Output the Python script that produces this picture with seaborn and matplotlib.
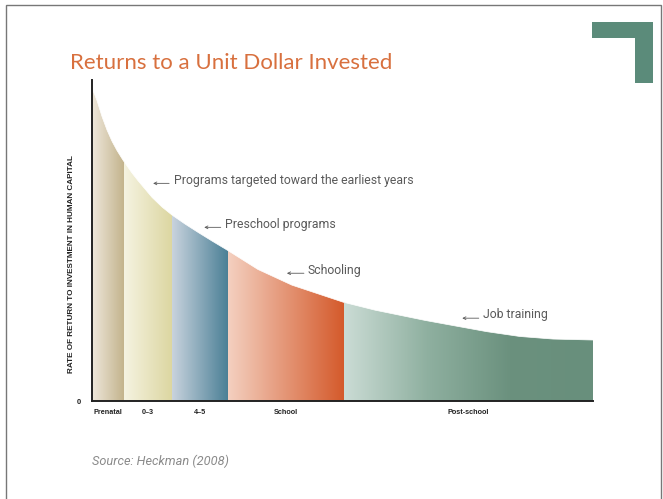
"""
plot.py
Heckman curve: returns to a unit dollar invested, by stage of life.
"""

import numpy as np
import pandas as pd
import matplotlib
matplotlib.use("Agg")
import matplotlib.pyplot as plt
import seaborn as sns
from matplotlib.colors import LinearSegmentedColormap
from matplotlib.patches import Polygon, Rectangle

# curve (x: 0-100 along the age axis, y: 0-100 of axis height)
CURVE_X = [0, 1.0, 2.0, 3.0, 4.0, 5.0, 6.2, 8.0, 9.2, 12.0, 14.0, 16.0, 18.6,
           21.2, 24.0, 27.1, 33.1, 39.9, 50.1, 56.5, 66.5, 72.1, 78.8, 85.4,
           92.0, 100]
CURVE_Y = [97.5, 93.6, 88.6, 84.4, 80.9, 78.0, 75.0, 71.0, 68.6, 63.4, 60.4,
           57.9, 55.1, 52.5, 49.8, 46.9, 41.0, 36.1, 30.8, 28.3, 25.1, 23.5,
           21.6, 20.1, 19.3, 19.0]

STAGES      = ["Prenatal", "0\u20133", "4\u20135", "School", "Post-school"]
STAGE_EDGES = [0, 6.4, 16.0, 27.1, 50.3, 100]
# colour stops left -> right inside each band
STAGE_COLORS = [
    ["#eee7db", "#c2b28a"],
    ["#f5f3e1", "#dcd6a0"],
    ["#c9d3de", "#4b8096"],
    ["#f4d0c0", "#d4592a"],
    ["#cbdcd5", "#8fb0a0", "#6b917e", "#688f7c"],
]

NOTES      = ["Programs targeted toward the earliest years", "Preschool programs",
              "Schooling", "Job training"]
NOTE_X     = [16.4, 26.5, 43.1, 78.0]
NOTE_Y     = [68.8, 55.1, 40.8, 26.8]
ARROW_HEAD = [12.2, 22.4, 38.9, 73.9]
ARROW_TAIL = [15.4, 25.7, 42.3, 77.2]

TITLE  = "Returns to a Unit Dollar Invested"
YLABEL = "RATE OF RETURN TO INVESTMENT IN HUMAN CAPITAL"
SOURCE = "Source: Heckman (2008)"

sns.set_theme(style="white")
plt.rcParams["font.family"] = ["Lato", "DejaVu Sans"]

W, H = 663, 499
fig = plt.figure(figsize=(W / 100, H / 100), dpi=100)
ax = fig.add_axes([92 / W, 1 - 401 / H, (593 - 92) / W, (401 - 80) / H])

df = pd.DataFrame({"x": CURVE_X, "y": CURVE_Y})

# area under the curve, used to clip the gradient bands
area = Polygon(list(zip(df.x, df.y)) + [(100, 0), (0, 0)], closed=True,
               facecolor="none", edgecolor="none")
ax.add_patch(area)

ramp = np.linspace(0, 1, 256)[None, :]
for i, cols in enumerate(STAGE_COLORS):
    cmap = LinearSegmentedColormap.from_list(f"s{i}", cols)
    im = ax.imshow(ramp, cmap=cmap, aspect="auto", interpolation="bilinear",
                   extent=(STAGE_EDGES[i], STAGE_EDGES[i + 1], 0, 100), zorder=1)
    im.set_clip_path(area)

sns.lineplot(data=df, x="x", y="y", color="white", linewidth=0.5, ax=ax, zorder=2)

for txt, tx, ty, h, t in zip(NOTES, NOTE_X, NOTE_Y, ARROW_HEAD, ARROW_TAIL):
    ax.text(tx, ty, txt, fontsize=8.8, color="#5a5a5a", va="center", ha="left",
            family=["Roboto", "DejaVu Sans"])
    ax.annotate("", xy=(h, ty - 1.0), xytext=(t, ty - 1.0),
                arrowprops=dict(arrowstyle="->", color="#5a5a5a", lw=0.6,
                                shrinkA=0, shrinkB=0, mutation_scale=5))

ax.set_xlim(0, 100)
ax.set_ylim(0, 100)
centers = [(a + b) / 2 for a, b in zip(STAGE_EDGES[:-1], STAGE_EDGES[1:])]
ax.set_xticks(centers)
ax.set_xticklabels(STAGES, fontsize=5.2, fontweight="bold", color="#222",
                   family=["Liberation Sans", "DejaVu Sans"])
ax.set_yticks([0])
ax.set_yticklabels(["0"], fontsize=5.5, fontweight="bold", color="#222",
                   family=["Liberation Sans", "DejaVu Sans"])
ax.tick_params(axis="x", length=0, pad=6)
ax.tick_params(axis="y", length=0, pad=8)
ax.set_xlabel("")
ax.set_ylabel(YLABEL, fontsize=5.9, fontweight="bold", color="#222",
              family=["Liberation Sans", "DejaVu Sans"])
ax.yaxis.set_label_coords(-0.034, 0.427)

for side in ["top", "right"]:
    ax.spines[side].set_visible(False)
for side in ["left", "bottom"]:
    ax.spines[side].set_color("#222")
    ax.spines[side].set_linewidth(1.4)
ax.set_facecolor("none")

fig.text(70 / W, 1 - 63 / H, TITLE, fontsize=16, color="#d8703e",
         va="center", ha="left", family=["Lato", "DejaVu Sans"])
fig.text(92 / W, 1 - 461 / H, SOURCE, fontsize=9.2, color="#8a8a8a",
         style="italic", va="center", ha="left", family=["Roboto", "DejaVu Sans"])

# page frame and green corner mark
fig.patches.append(Rectangle((6 / W, -0.05), (661 - 6) / W, 1 - 5 / H + 0.05,
                             transform=fig.transFigure, fill=False,
                             edgecolor="#777", linewidth=1.0))
corner = "#5b8b7a"
fig.patches.append(Rectangle((592 / W, 1 - 38 / H), (653 - 592) / W, 16 / H,
                             transform=fig.transFigure, color=corner, lw=0))
fig.patches.append(Rectangle((635 / W, 1 - 83 / H), (653 - 635) / W, 61 / H,
                             transform=fig.transFigure, color=corner, lw=0))

fig.savefig("out.png", dpi=100)
plt.close()
